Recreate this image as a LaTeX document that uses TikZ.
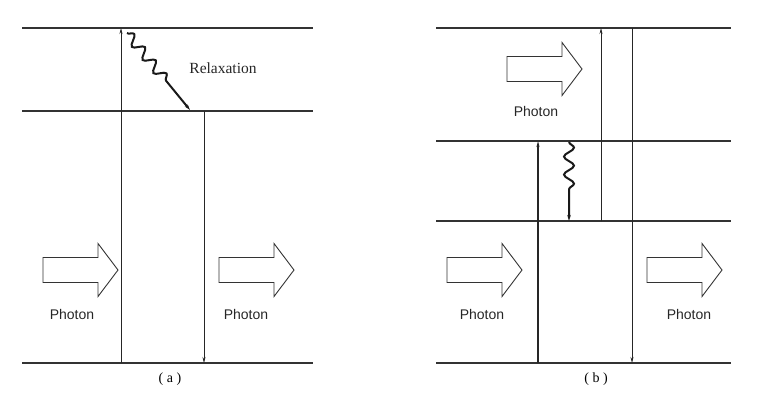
\documentclass[tikz,border=0pt]{standalone}
\usepackage{fontspec}
\setmainfont{Liberation Serif}
\newfontfamily\photonfont{Liberation Sans}
\usetikzlibrary{arrows.meta,decorations.pathmorphing}

\tikzset{
  level/.style={line width=1.1pt,black!80},
  trans/.style={line width=0.7pt,black!85,-{Stealth[length=6pt,width=3pt]}},
  wavy/.style={line width=2pt,black!90,-{Stealth[length=6pt,width=3.5pt]},
    decorate,decoration={snake,amplitude=5pt,segment length=#1}},
  photonlabel/.style={font=\photonfont\fontsize{14}{16}\selectfont,text=black!85},
  photon/.pic={\draw[line width=0.9pt,black!80,line join=miter]
    (0,-12.5) -- (55,-12.5) -- (55,-26.5) -- (75,0) -- (55,26.5) -- (55,12.5) -- (0,12.5) -- cycle;}
}

\begin{document}
\begin{tikzpicture}[x=1pt,y=-1pt]
        \useasboundingbox (0,0) rectangle (768,400);

        % Levels of panel (a)
        \draw[level] (22,28) -- (313,28);
        \draw[level] (22,111) -- (313,111);
        \draw[level] (22,363) -- (313,363);

        % Levels of panel (b)
        \draw[level] (436,28) -- (731,28);
        \draw[level] (436,141) -- (731,141);
        \draw[level] (436,221) -- (731,221);
        \draw[level] (436,363) -- (731,363);

        % End points of the transitions
        \coordinate (aUpFrom) at (121,363);
        \coordinate (aUpTo) at (121,28);
        \coordinate (aDownFrom) at (204,111);
        \coordinate (aDownTo) at (204,363);
        \coordinate (aRelaxFrom) at (127,33);
        \coordinate (aRelaxTo) at (190,110);
        \coordinate (bUpOneFrom) at (538,363);
        \coordinate (bUpOneTo) at (538,141);
        \coordinate (bRelaxFrom) at (569,142);
        \coordinate (bRelaxTo) at (569,221);
        \coordinate (bUpTwoFrom) at (601,221);
        \coordinate (bUpTwoTo) at (601,28);
        \coordinate (bDownFrom) at (632,28);
        \coordinate (bDownTo) at (632,363);

        % Transitions of panel (a)
        \draw[trans] (aUpFrom) -- (aUpTo);
        \draw[trans] (aDownFrom) -- (aDownTo);
        \draw[wavy=17pt,decoration={post length=34pt}] (aRelaxFrom) -- (aRelaxTo);

        % Transitions of panel (b)
        \draw[trans,line width=1.1pt] (bUpOneFrom) -- (bUpOneTo);
        \draw[wavy=18pt,decoration={post length=23pt}] (bRelaxFrom) -- (bRelaxTo);
        \draw[trans] (bUpTwoFrom) -- (bUpTwoTo);
        \draw[trans] (bDownFrom) -- (bDownTo);

        % Photon arrows
        \pic at (43,270) {photon};
        \pic at (219,270) {photon};
        \pic at (507,69) {photon};
        \pic at (447,270) {photon};
        \pic at (647,270) {photon};

        % Labels
        \node[photonlabel] (aIn) at (72,314) {Photon};
        \node[photonlabel] (aOut) at (246,314) {Photon};
        \node[photonlabel] (bTop) at (536,111) {Photon};
        \node[photonlabel] (bIn) at (482,314) {Photon};
        \node[photonlabel] (bOut) at (689,314) {Photon};
        \node[font=\fontsize{15.5}{18}\selectfont,text=black!85] (relax) at (223,68) {Relaxation};
        \node[font=\fontsize{14}{16}\selectfont] (capA) at (170,379) {( a )};
        \node[font=\fontsize{14}{16}\selectfont] (capB) at (596,379) {( b )};
    \end{tikzpicture}
\end{document}
